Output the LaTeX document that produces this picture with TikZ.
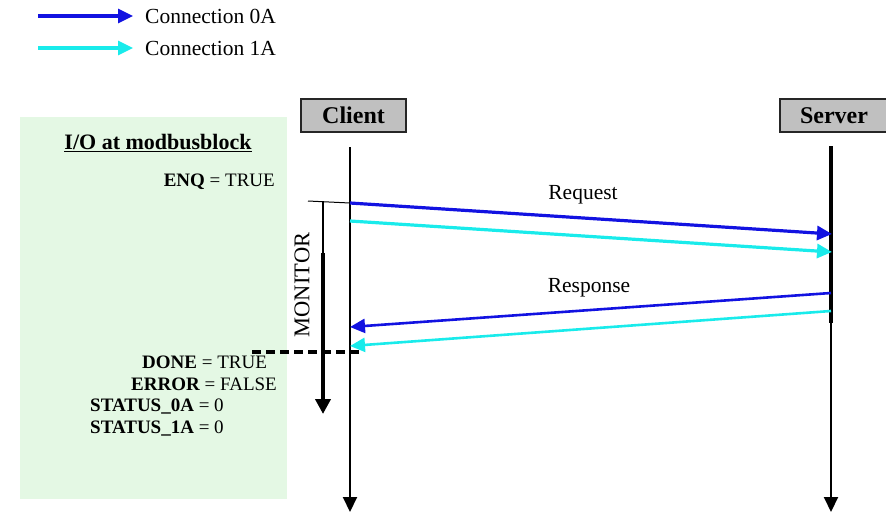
\documentclass[tikz,border=0pt]{standalone}
\usepackage{fontspec}
\setmainfont{Liberation Serif}
\usetikzlibrary{arrows.meta}
\definecolor{connzero}{RGB}{18,18,225}
\definecolor{connone}{RGB}{25,235,235}
\definecolor{panelgreen}{RGB}{228,248,228}
\definecolor{boxgray}{RGB}{192,192,192}
\tikzset{
  txt/.style={inner sep=0pt, font=\fontsize{19}{22}\selectfont},
  bigtxt/.style={inner sep=0pt, font=\fontsize{21.5}{24}\selectfont},
  hdr/.style={draw=black!85, line width=1.4pt, fill=boxgray, inner sep=0pt,
              minimum width=105pt, minimum height=33pt,
              font=\fontsize{24}{26}\selectfont\bfseries},
  tip/.style={-{Triangle[length=15pt,width=14pt]}},
  lifeline/.style={line width=2pt, tip},
  msgzero/.style={draw=connzero, line width=3.2pt, tip},
  msgone/.style={draw=connone, line width=3.2pt, tip},
}
\begin{document}
\begin{tikzpicture}[x=1pt,y=-1pt]
\useasboundingbox (0,0) rectangle (886,514);

% legend
\coordinate (lza) at (38,16);  \coordinate (lzb) at (133,16);
\coordinate (loa) at (38,48);  \coordinate (lob) at (133,48);
\draw[msgzero] (lza) -- (lzb);
\draw[msgone] (loa) -- (lob);
\node[bigtxt, anchor=west] (lzt) at (145,16) {Connection 0A};
\node[bigtxt, anchor=west] (lot) at (145,48) {Connection 1A};

% block I/O panel
\fill[panelgreen] (20,117) rectangle (287,499);
\node[inner sep=0pt, font=\fontsize{22}{24}\selectfont\bfseries] (iot) at (158,143) {\underline{I/O at modbusblock}};
\node[txt, anchor=east] (enq) at (275,182) {\textbf{ENQ} = TRUE};
\node[txt, anchor=west] (done) at (142,362) {\textbf{DONE} = TRUE};
\node[txt, anchor=west] (err) at (131,384) {\textbf{ERROR} = FALSE};
\node[txt, anchor=west] (st0) at (90,406) {\textbf{STATUS\_0A} = 0};
\node[txt, anchor=west] (st1) at (90,428) {\textbf{STATUS\_1A} = 0};

% headers
\node[hdr] (client) at (353.5,115.5) {Client};
\node[hdr, minimum width=108pt] (server) at (834,115.5) {Server};

% lifelines
\coordinate (ctop) at (350,147); \coordinate (cbot) at (350,512);
\coordinate (stop) at (831,146); \coordinate (smid) at (831,323); \coordinate (sbot) at (831,512);
\draw[lifeline] (ctop) -- (cbot);
\draw[line width=4pt] (stop) -- (smid);
\draw[lifeline] (smid) -- (sbot);

% request messages
\coordinate (cqz) at (350,203); \coordinate (sqz) at (832,234);
\coordinate (cqo) at (350,221); \coordinate (sqo) at (832,252);
\draw[msgzero] (cqz) -- (sqz);
\draw[msgone] (cqo) -- (sqo);
\node[bigtxt] (req) at (583,195) {Request};

% response messages
\coordinate (srz) at (831,293); \coordinate (crz) at (350,327);
\coordinate (sro) at (831,311); \coordinate (cro) at (350,346);
\draw[msgzero, line width=2.6pt] (srz) -- (crz);
\draw[msgone, line width=2.6pt] (sro) -- (cro);
\node[bigtxt] (resp) at (589,288) {Response};

% monitor interval
\coordinate (mtick) at (308,201); \coordinate (mtop) at (323,201);
\coordinate (mmid) at (323,253); \coordinate (mbot) at (323,414);
\draw[line width=1pt] (mtick) -- (cqz);
\draw[line width=2pt] (mtop) -- (mmid);
\draw[line width=4pt, -{Triangle[length=15pt,width=15pt]}] (mmid) -- (mbot);
\node[inner sep=0pt, font=\fontsize{22.5}{24}\selectfont, rotate=90] (mon) at (302,285) {MONITOR};

% completion marker
\coordinate (dza) at (252,352); \coordinate (dzb) at (361,352);
\draw[line width=3.5pt, dash pattern=on 9pt off 5pt] (dza) -- (dzb);
\end{tikzpicture}
\end{document}
